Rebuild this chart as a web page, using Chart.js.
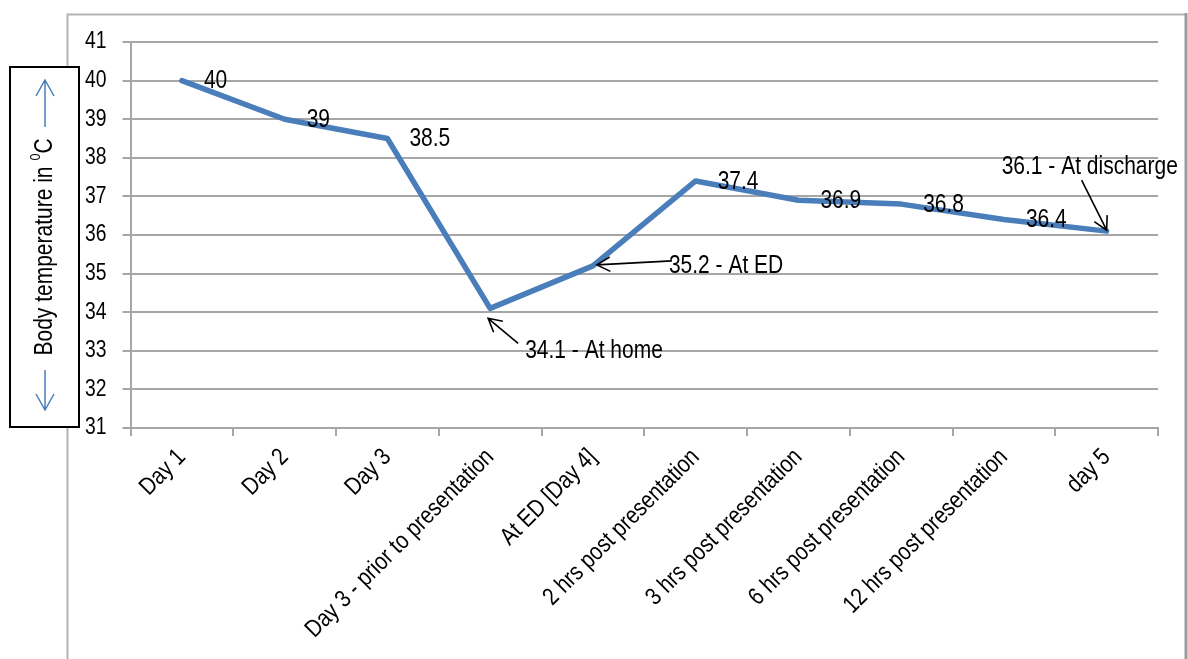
<!DOCTYPE html>
<html>
<head>
<meta charset="utf-8">
<script src="https://cdn.jsdelivr.net/npm/chart.js@4"></script>
<style>
  html, body { margin: 0; padding: 0; background: #fff; overflow: hidden; }
</style>
</head>
<body>
<canvas id="tempChart" width="1188" height="659"></canvas>
<script>
const labels = [
  "Day 1", "Day 2", "Day 3", "Day 3 - prior to presentation", "At ED [Day 4]",
  "2 hrs post presentation", "3 hrs post presentation", "6 hrs post presentation",
  "12 hrs post presentation", "day 5"
];
const temperatures = [40, 39, 38.5, 34.1, 35.2, 37.4, 36.9, 36.8, 36.4, 36.1];
const pointNotes = ["40", "39", "38.5", "34.1 - At home", "35.2 - At ED", "37.4", "36.9", "36.8", "36.4", "36.1 - At discharge"];
const yMin = 31;
const yMax = 41;
const yTitle = "Body temperature in ";

const FONT = "'Liberation Sans', Arial, sans-serif";
const GRID = "#a6a6a6";
const BLUE = "#4a7ebb";
const NARROW = 0.84; // source text is a narrow Arial

// callouts with arrows: text offset and arrow start/end, relative to the point
const callouts = {
  3: { tx: 35, ty: 43, ax1: 28, ay1: 35, ax2: -2, ay2: 10 },
  4: { tx: 76, ty: 0, ax1: 79, ay1: -5, ax2: 4, ay2: -1 },
  9: { tx: -105, ty: -64, ax1: -25, ay1: -51, ax2: 0, ay2: -1 }
};

const canvas = document.getElementById("tempChart");
const ctx = canvas.getContext("2d");

// squeeze every piece of text along its own direction
const baseFill = ctx.fillText.bind(ctx);
const baseMeasure = ctx.measureText.bind(ctx);
ctx.fillText = function (text, x, y, maxWidth) {
  this.save();
  this.translate(x, y);
  this.scale(NARROW, 1);
  if (maxWidth === undefined) baseFill(text, 0, 0);
  else baseFill(text, 0, 0, maxWidth / NARROW);
  this.restore();
};
ctx.measureText = function (text) {
  const m = baseMeasure(text);
  return {
    width: m.width * NARROW,
    actualBoundingBoxAscent: m.actualBoundingBoxAscent,
    actualBoundingBoxDescent: m.actualBoundingBoxDescent,
    actualBoundingBoxLeft: m.actualBoundingBoxLeft * NARROW,
    actualBoundingBoxRight: m.actualBoundingBoxRight * NARROW
  };
};

function arrow(c, x1, y1, x2, y2) {
  const a = Math.atan2(y2 - y1, x2 - x1);
  const h = 15, s = 0.5;
  c.beginPath();
  c.moveTo(x1, y1);
  c.lineTo(x2, y2);
  c.moveTo(x2 - h * Math.cos(a - s), y2 - h * Math.sin(a - s));
  c.lineTo(x2, y2);
  c.lineTo(x2 - h * Math.cos(a + s), y2 - h * Math.sin(a + s));
  c.stroke();
}

const framePlugin = {
  id: "frame",
  beforeDraw(chart) {
    const c = chart.ctx;
    c.save();
    c.strokeStyle = "#b4b4b4";
    c.lineWidth = 2;
    c.beginPath();
    c.moveTo(67.5, 700);
    c.lineTo(67.5, 14.5);
    c.lineTo(1186, 14.5);
    c.stroke();
    c.strokeStyle = "#9c9c9c";
    c.lineWidth = 3;
    c.beginPath();
    c.moveTo(1186, 13);
    c.lineTo(1186, 700);
    c.stroke();
    c.restore();
  },
  afterDatasetsDraw(chart) {
    const c = chart.ctx;
    const pts = chart.getDatasetMeta(0).data;
    c.save();
    c.fillStyle = "#000";
    c.strokeStyle = "#000";
    c.lineWidth = 1.6;
    c.font = "25px " + FONT;
    c.textBaseline = "middle";
    c.textAlign = "left";
    pts.forEach((p, i) => {
      const o = callouts[i];
      if (o) {
        c.fillText(pointNotes[i], p.x + o.tx, p.y + o.ty);
        arrow(c, p.x + o.ax1, p.y + o.ay1, p.x + o.ax2, p.y + o.ay2);
      } else {
        c.fillText(pointNotes[i], p.x + 22, p.y + 1);
      }
    });
    c.restore();
  },
  afterDraw(chart) {
    const c = chart.ctx;
    c.save();
    // boxed axis title
    c.fillStyle = "#fff";
    c.fillRect(10, 67, 69, 360);
    c.strokeStyle = "#000";
    c.lineWidth = 2;
    c.strokeRect(10, 67, 69, 360);

    c.translate(45, 247);
    c.rotate(-Math.PI / 2);
    c.font = "25px " + FONT;
    const w1 = c.measureText(yTitle).width;
    c.font = "15px " + FONT;
    const w2 = c.measureText("0").width;
    c.font = "25px " + FONT;
    const w3 = c.measureText("C").width;
    let x = -(w1 + w2 + w3) / 2;
    c.fillStyle = "#000";
    c.textBaseline = "middle";
    c.textAlign = "left";
    c.fillText(yTitle, x, 0);
    x += w1;
    c.font = "15px " + FONT;
    c.fillText("0", x, -9);
    x += w2;
    c.font = "25px " + FONT;
    c.fillText("C", x, 0);

    // blue arrows at both ends
    c.strokeStyle = BLUE;
    c.lineWidth = 1.5;
    const ah = 16, ay = 9;
    c.beginPath();
    c.moveTo(120, 0); c.lineTo(167, 0);
    c.moveTo(167 - ah, -ay); c.lineTo(167, 0); c.lineTo(167 - ah, ay);
    c.moveTo(-123, 0); c.lineTo(-163, 0);
    c.moveTo(-163 + ah, -ay); c.lineTo(-163, 0); c.lineTo(-163 + ah, ay);
    c.stroke();
    c.restore();
  }
};

new Chart(canvas, {
  type: "line",
  data: {
    labels,
    datasets: [{
      data: temperatures,
      borderColor: BLUE,
      borderWidth: 5.5,
      pointRadius: 0,
      tension: 0,
      borderJoinStyle: "round",
      borderCapStyle: "round"
    }]
  },
  options: {
    responsive: false,
    animation: false,
    events: [],
    layout: { padding: { left: 0, right: 30, top: 42, bottom: 0 } },
    plugins: {
      legend: { display: false },
      tooltip: { enabled: false }
    },
    scales: {
      x: {
        offset: true,
        afterFit: (s) => { s.height = 231; },
        grid: { offset: true, drawOnChartArea: false, drawTicks: true, tickLength: 8, color: GRID, lineWidth: 2 },
        border: { display: true, color: GRID, width: 2 },
        ticks: {
          autoSkip: false,
          minRotation: 45,
          maxRotation: 45,
          padding: 7,
          color: "#000",
          font: { family: FONT, size: 24.5 }
        }
      },
      y: {
        min: yMin,
        max: yMax,
        afterFit: (s) => { s.width = 130.5; },
        grid: { color: GRID, lineWidth: 2, drawTicks: true, tickLength: 8 },
        border: { display: true, color: GRID, width: 2 },
        ticks: {
          stepSize: 1,
          padding: 16,
          color: "#000",
          font: { family: FONT, size: 23 }
        }
      }
    }
  },
  plugins: [framePlugin]
});
</script>
</body>
</html>
